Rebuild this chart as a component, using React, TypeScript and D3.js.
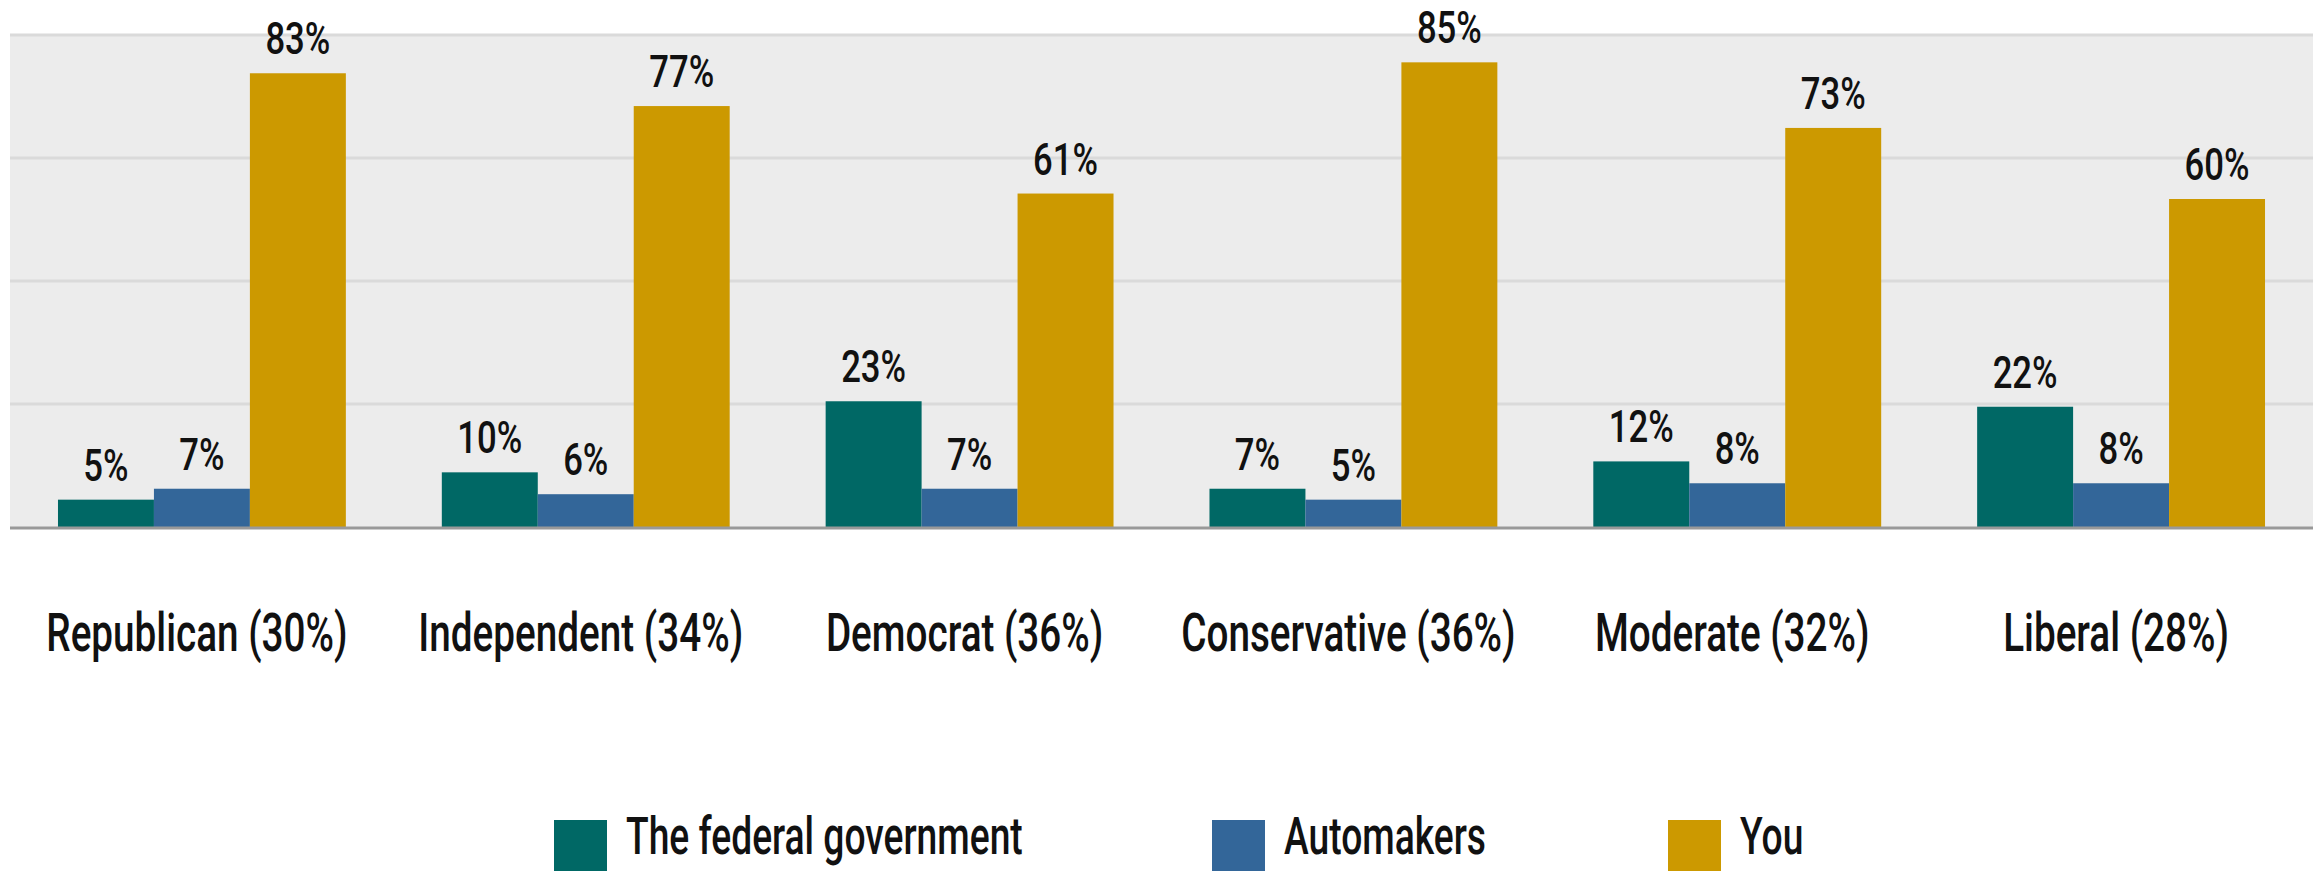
import React from "react";
import * as d3 from "d3";

const categories = ["Republican (30%)", "Independent (34%)", "Democrat (36%)", "Conservative (36%)", "Moderate (32%)", "Liberal (28%)"];
const seriesNames = ["The federal government", "Automakers", "You"];
const federal = [5, 10, 23, 7, 12, 22];
const automakers = [7, 6, 7, 5, 8, 8];
const you = [83, 77, 61, 85, 73, 60];
const colors = ["#006865", "#336699", "#cc9900"];
const gridTicks = [0, 22.5, 45, 67.5, 90];

const W = 2320, H = 871;
const left = 10, right = 2313, top = 35, bottom = 527;
const FONT = "Roboto, 'Liberation Sans', sans-serif";

function CText({ x, y, size, sx = 0.73, anchor = "middle", children }: any) {
  return (
    <text transform={`translate(${x},${y}) scale(${sx},1)`} textAnchor={anchor} fontSize={size} fontWeight={500} fill="#111">
      {children}
    </text>
  );
}

export default function App() {
  const series = [federal, automakers, you];
  const x0 = d3.scaleBand<string>().domain(categories).range([left, right]).paddingInner(0.25).paddingOuter(0.125);
  const x1 = d3.scaleBand<number>().domain([0, 1, 2]).range([0, x0.bandwidth()]);
  const y = d3.scaleLinear().domain([0, 90]).range([bottom, top]);

  const legendX = [554, 1212, 1668];

  return (
    <svg width={W} height={H} style={{ position: "absolute", left: 0, top: 0 }} fontFamily={FONT}>
      <rect x={0} y={0} width={W} height={H} fill="#fff" />
      <rect x={left} y={top} width={right - left} height={bottom - top} fill="#ececec" />
      {gridTicks.slice(1).map((t) => (
        <line key={t} x1={left} x2={right} y1={y(t)} y2={y(t)} stroke="#dadada" strokeWidth={3} />
      ))}
      {categories.map((c, i) => (
        <g key={c}>
          {series.map((s, j) => (
            <rect key={j} x={(x0(c) as number) + (x1(j) as number)} y={y(s[i])} width={x1.bandwidth()} height={bottom - y(s[i])} fill={colors[j]} />
          ))}
          {series.map((s, j) => (
            <CText key={"t" + j} x={(x0(c) as number) + (x1(j) as number) + x1.bandwidth() / 2} y={y(s[i]) - 19} size={45} sx={0.77}>
              {s[i]}%
            </CText>
          ))}
          <CText x={(x0(c) as number) + x0.bandwidth() / 2 - 5} y={651} size={53}>
            {c}
          </CText>
        </g>
      ))}
      <line x1={left} x2={right} y1={bottom + 1} y2={bottom + 1} stroke="#999" strokeWidth={3} />
      {seriesNames.map((n, j) => (
        <g key={n}>
          <rect x={legendX[j]} y={820} width={53} height={53} fill={colors[j]} />
          <CText x={legendX[j] + 72} y={854} size={51} anchor="start">{n}</CText>
        </g>
      ))}
    </svg>
  );
}
